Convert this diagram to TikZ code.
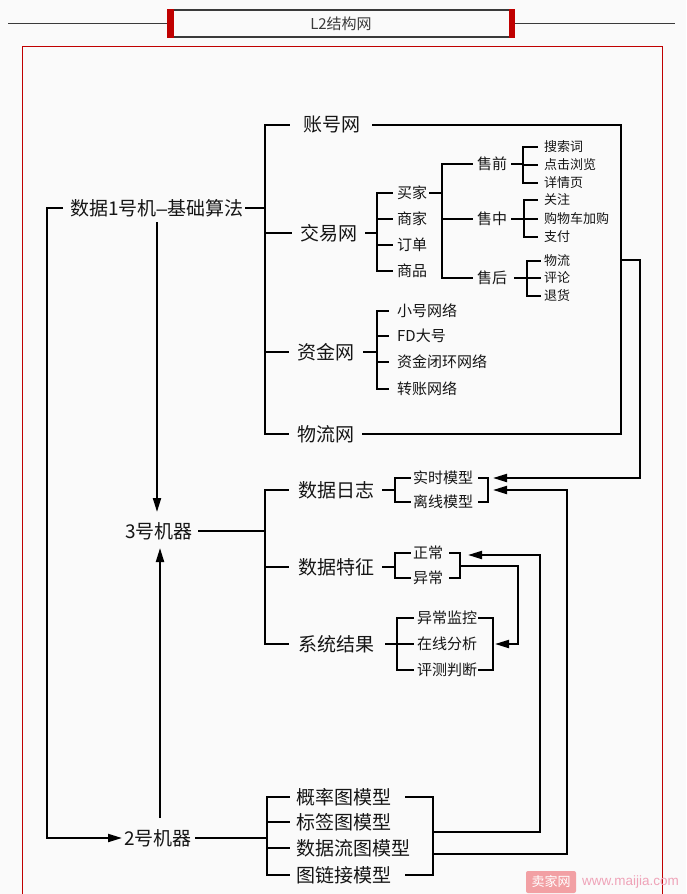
\documentclass[tikz,border=0pt]{standalone}
\usepackage{fontspec}
\setmainfont{Noto Sans CJK SC}
\newfontfamily\latf{Liberation Sans}
\usetikzlibrary{arrows.meta}
\definecolor{bgc}{HTML}{FAFAFA}
\definecolor{txt}{HTML}{151515}
\definecolor{framec}{HTML}{C00000}
\definecolor{hdr}{HTML}{3A3A3A}
\definecolor{wmk}{HTML}{F2A0A4}
\definecolor{wmt}{HTML}{EFA3B8}
\begin{document}
\begin{tikzpicture}[x=1pt,y=-1pt,
  big/.style={font=\fontsize{19}{21}\selectfont, text=txt, anchor=west, inner sep=0pt},
  mid/.style={font=\fontsize{15}{17}\selectfont, text=txt, anchor=west, inner sep=0pt},
  sml/.style={font=\fontsize{13}{15}\selectfont, text=txt, anchor=west, inner sep=0pt},
  ln/.style={line width=2pt, draw=black, line cap=rect, line join=miter},
  arr/.style={line width=2pt, draw=black, -{Triangle[length=14pt,width=8pt]}},
]
\fill[bgc] (0,0) rectangle (686,894);
\useasboundingbox (0,0) rectangle (686,894);

% ---------- header ----------
\node[draw=hdr, line width=1.2pt, minimum width=346pt, minimum height=27pt, inner sep=0pt,
      font=\fontsize{15}{17}\selectfont, text=hdr] (title) at (341,23.5) {L2结构网};
\coordinate (HL) at (8,23.5);
\coordinate (HR) at (675,23.5);
\draw[hdr, line width=1pt] (HL) -- (title.west) (title.east) -- (HR);
\fill[framec] (title.north west) rectangle ([xshift=7pt]title.south west);
\fill[framec] ([xshift=-6pt]title.north east) rectangle (title.south east);
\draw[framec, line width=1pt] (22,894) -- (22,46.5) -- (662,46.5) -- (662,894);

% ---------- top group ----------
\node[big] (dj) at (70,208) {数据1号机{\latf –}基础算法};
\node[big] (zh) at (303,125) {账号网};
\node[big] (jy) at (300,233) {交易网};
\node[big] (zj) at (297,352) {资金网};
\node[big] (wl) at (297,434) {物流网};
\coordinate (S1) at (265,208);
\draw[ln] ([xshift=2pt]dj.east) -- (S1);
\draw[ln] (S1 |- zh.west) -- (S1 |- wl.west);
\foreach \n/\g in {zh/14pt,jy/9pt,zj/9pt,wl/9pt}
  \draw[ln] (S1 |- \n.west) -- ([xshift=-\g]\n.west);

\coordinate (R1) at (621,260);
\draw[ln] ([xshift=13pt]zh.east) -| (R1 |- wl.west) -- ([xshift=9pt]wl.east);
\coordinate (K1) at (640,478);
\coordinate (T1) at (493,478);
\draw[arr] (R1) -| (K1) -- (T1);

% trading
\node[mid] (b1) at (397,193) {买家};
\node[mid] (b2) at (397,219) {商家};
\node[mid] (b3) at (397,245) {订单};
\node[mid] (b4) at (397,271) {商品};
\coordinate (S2) at (377,233);
\draw[ln] ([xshift=9pt]jy.east) -- (S2);
\draw[ln] (S2 |- b1.west) -- (S2 |- b4.west);
\foreach \n in {b1,b2,b3,b4} \draw[ln] (S2 |- \n.west) -- ([xshift=-5pt]\n.west);

\node[mid] (sq) at (477,164) {售前};
\node[mid] (sz) at (477,219) {售中};
\node[mid] (sh) at (477,278) {售后};
\coordinate (S8) at (442,193);
\draw[ln] ([xshift=3pt]b1.east) -- (S8);
\draw[ln] (S8 |- sq.west) -- (S8 |- sh.west);
\foreach \n in {sq,sz,sh} \draw[ln] (S8 |- \n.west) -- ([xshift=-5pt]\n.west);

\node[sml] (l1) at (544,147) {搜索词};
\node[sml] (l2) at (544,165) {点击浏览};
\node[sml] (l3) at (544,183) {详情页};
\node[sml] (l4) at (544,200) {关注};
\node[sml] (l5) at (544,219) {购物车加购};
\node[sml] (l6) at (544,237) {支付};
\node[sml] (l7) at (544,261) {物流};
\node[sml] (l8) at (544,278) {评论};
\node[sml] (l9) at (544,296) {退货};
\coordinate (S9) at (523,164);
\draw[ln] ([xshift=5pt]sq.east) -- (S9);
\draw[ln] (S9 |- l1.west) -- (S9 |- l3.west);
\foreach \n in {l1,l2,l3} \draw[ln] (S9 |- \n.west) -- ([xshift=-7pt]\n.west);
\coordinate (S10) at (524,219);
\draw[ln] ([xshift=5pt]sz.east) -- (S10);
\draw[ln] (S10 |- l4.west) -- (S10 |- l6.west);
\foreach \n in {l4,l5,l6} \draw[ln] (S10 |- \n.west) -- ([xshift=-7pt]\n.west);
\coordinate (S11) at (527,278);
\draw[ln] ([xshift=8pt]sh.east) -- (S11);
\draw[ln] (S11 |- l7.west) -- (S11 |- l9.west);
\foreach \n in {l7,l8,l9} \draw[ln] (S11 |- \n.west) -- ([xshift=-4pt]\n.west);

% funds
\node[mid] (c1) at (397,311) {小号网络};
\node[mid] (c2) at (397,336) {FD大号};
\node[mid] (c3) at (397,362) {资金闭环网络};
\node[mid] (c4) at (397,389) {转账网络};
\coordinate (S12) at (377,352);
\draw[ln] ([xshift=10pt]zj.east) -- (S12);
\draw[ln] (S12 |- c1.west) -- (S12 |- c4.west);
\foreach \n in {c1,c2,c3,c4} \draw[ln] (S12 |- \n.west) -- ([xshift=-9pt]\n.west);

% ---------- machine 3 ----------
\node[big] (m3) at (125,531) {3号机器};
\node[big] (rz) at (298,490) {数据日志};
\node[big] (tz) at (298,567) {数据特征};
\node[big] (jg) at (298,644) {系统结果};
\coordinate (S3) at (265,531);
\draw[ln] ([xshift=6pt]m3.east) -- (S3);
\draw[ln] (S3 |- rz.west) -- (S3 |- jg.west);
\foreach \n in {rz,tz,jg} \draw[ln] (S3 |- \n.west) -- ([xshift=-10pt]\n.west);

\node[mid] (ss) at (413,478) {实时模型};
\node[mid] (lx) at (413,502) {离线模型};
\coordinate (S4) at (395,490);
\draw[ln] ([xshift=9pt]rz.east) -- (S4);
\draw[ln] (S4 |- ss.west) -- (S4 |- lx.west);
\foreach \n in {ss,lx} \draw[ln] (S4 |- \n.west) -- ([xshift=-3pt]\n.west);
\coordinate (R4) at (488,490);
\draw[ln] ([xshift=6pt]ss.east) -| (R4 |- lx.west) -- ([xshift=6pt]lx.east);
\coordinate (T2) at (493,490);

\node[mid] (zc) at (413,553) {正常};
\node[mid] (yc) at (413,578) {异常};
\coordinate (S5) at (395,567);
\draw[ln] ([xshift=9pt]tz.east) -- (S5);
\draw[ln] (S5 |- zc.west) -- (S5 |- yc.west);
\foreach \n in {zc,yc} \draw[ln] (S5 |- \n.west) -- ([xshift=-3pt]\n.west);
\coordinate (R5) at (460,566);
\draw[ln] ([xshift=7pt]zc.east) -| (R5 |- yc.west) -- ([xshift=7pt]yc.east);

\node[mid] (jk) at (417,618) {异常监控};
\node[mid] (fx) at (417,644) {在线分析};
\node[mid] (pc) at (417,670) {评测判断};
\coordinate (S6) at (397,644);
\draw[ln] ([xshift=12pt]jg.east) -- (S6);
\draw[ln] (S6 |- jk.west) -- (S6 |- pc.west);
\foreach \n in {jk,fx,pc} \draw[ln] (S6 |- \n.west) -- ([xshift=-4pt]\n.west);
\coordinate (R6) at (493,644);
\draw[ln] ([xshift=2pt]jk.east) -| (R6 |- pc.west) -- ([xshift=2pt]pc.east);

\coordinate (K4) at (518,644);
\coordinate (T4) at (495,644);
\draw[arr] (R5) -| (K4) -- (T4);

% ---------- machine 2 ----------
\node[big] (m2) at (124,838) {2号机器};
\node[big] (g1) at (296,797) {概率图模型};
\node[big] (g2) at (296,822) {标签图模型};
\node[big] (g3) at (296,848) {数据流图模型};
\node[big] (g4) at (296,875) {图链接模型};
\coordinate (S7) at (267,838);
\draw[ln] ([xshift=4pt]m2.east) -- (S7);
\draw[ln] (S7 |- g1.west) -- (S7 |- g4.west);
\foreach \n in {g1,g2,g3,g4} \draw[ln] (S7 |- \n.west) -- ([xshift=-7pt]\n.west);
\coordinate (R7) at (433,838);
\draw[ln] ([xshift=15pt]g1.east) -| (R7 |- g4.west) -- ([xshift=15pt]g4.east);

\coordinate (P3) at (433,832);
\coordinate (K3) at (540,555);
\coordinate (T3) at (468,555);
\draw[arr] (P3) -| (K3) -- (T3);
\coordinate (P2) at (433,854);
\coordinate (K2) at (567,490);
\draw[arr] (P2) -| (K2) -- (T2);

% ---------- left loop and vertical arrows ----------
\coordinate (LB) at (47,208);
\draw[arr] ([xshift=-7pt]dj.west) -- (LB) |- ([xshift=-2pt]m2.west);
\coordinate (VA) at (157,0);
\coordinate (VB) at (160,0);
\draw[arr] ([yshift=-14pt]VA |- dj.west) -- ([yshift=19pt]VA |- m3.west);
\draw[arr] ([yshift=20pt]VB |- m2.west) -- ([yshift=-17pt]VB |- m3.west);

% ---------- watermark ----------
\node[fill=wmk, rounded corners=2pt, text=white, font=\fontsize{13}{15}\selectfont,
      minimum width=50pt, minimum height=22pt, inner sep=0pt] (wm) at (551,882) {卖家网};
\node[anchor=west, text=wmt, font=\latf\fontsize{13.5}{15}\selectfont, inner sep=0pt] (url) at (582,882) {www.maijia.com};
\end{tikzpicture}
\end{document}
